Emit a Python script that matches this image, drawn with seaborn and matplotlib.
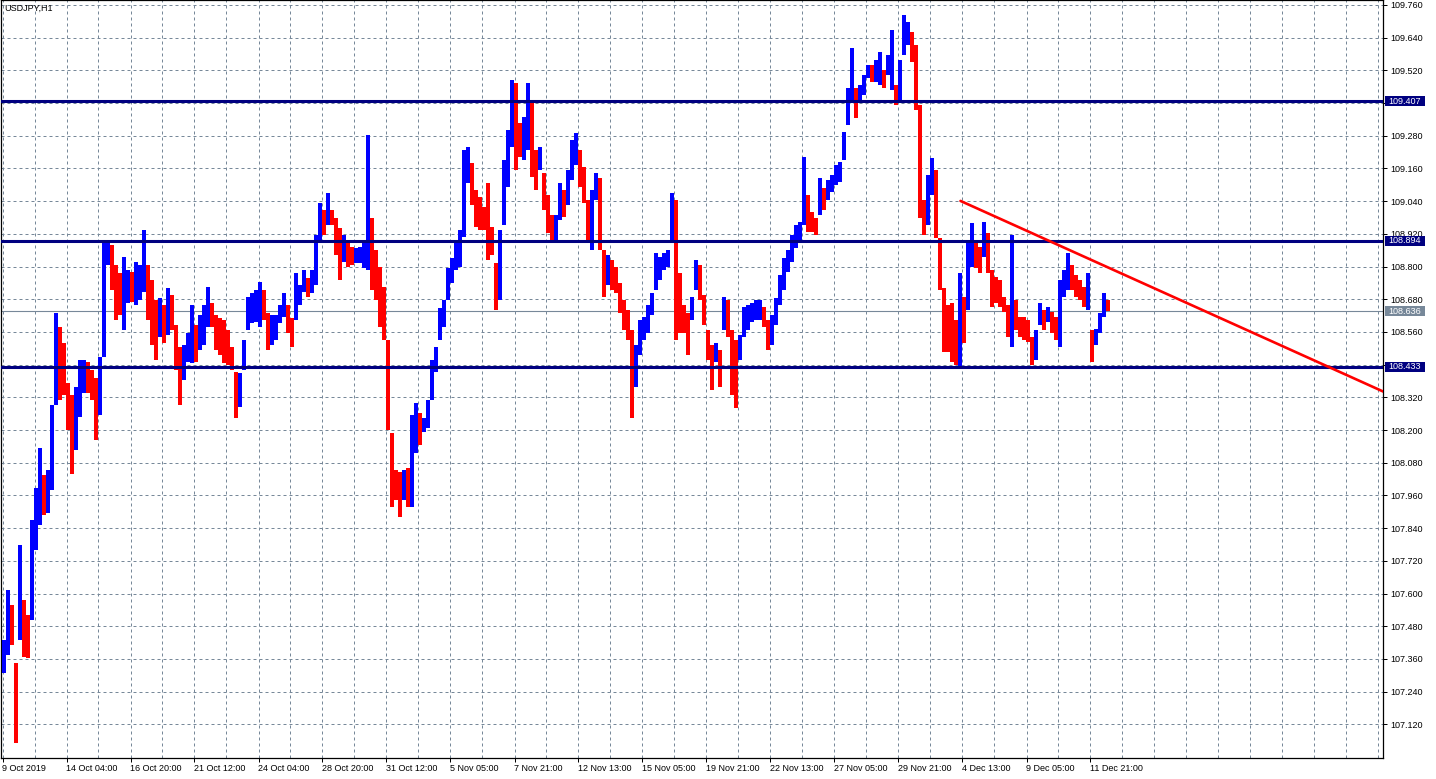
import matplotlib
matplotlib.use("Agg")
import matplotlib.pyplot as plt
import matplotlib.transforms as mtransforms
from matplotlib.patches import Rectangle
import numpy as np
import seaborn as sns

sns.set_theme(style="white")
plt.rcParams["font.family"] = ["Liberation Sans", "DejaVu Sans"]

# USDJPY H1, grouped into 4-hour blocks (high / low)
highs = [
    107.430, 107.613, 107.558, 107.345, 107.778, 107.577, 107.522, 107.870, 107.988, 108.134,
    108.035, 108.054, 108.292, 108.630, 108.578, 108.520, 108.373, 108.329, 108.358, 108.457,
    108.457, 108.450, 108.421, 108.391, 108.468, 108.887, 108.887, 108.879, 108.806, 108.777,
    108.835, 108.788, 108.780, 108.817, 108.806, 108.934, 108.806, 108.751, 108.677, 108.685,
    108.659, 108.721, 108.696, 108.586, 108.505, 108.512, 108.556, 108.659, 108.586, 108.622,
    108.659, 108.725, 108.666, 108.622, 108.611, 108.604, 108.567, 108.505, 108.413, 108.410,
    108.531, 108.688, 108.703, 108.714, 108.743, 108.714, 108.630, 108.622, 108.622, 108.659,
    108.703, 108.659, 108.611, 108.777, 108.732, 108.788, 108.758, 108.788, 108.916, 109.033,
    109.008, 109.070, 109.008, 108.978, 108.942, 108.916, 108.898, 108.872, 108.868, 108.872,
    108.898, 109.283, 108.978, 108.861, 108.799, 108.725, 108.531, 108.189, 108.054, 108.046,
    108.054, 108.061, 108.255, 108.299, 108.263, 108.244, 108.310, 108.457, 108.505, 108.648,
    108.677, 108.795, 108.832, 108.887, 108.934, 109.228, 109.239, 109.180, 109.081, 109.055,
    109.019, 109.107, 108.945, 108.813, 108.934, 109.191, 109.301, 109.485, 109.474, 109.327,
    109.349, 109.474, 109.411, 109.228, 109.239, 109.143, 109.063, 108.989, 108.989, 109.107,
    109.081, 109.154, 109.265, 109.290, 109.228, 109.166, 109.044, 109.081, 109.143, 109.125,
    108.861, 108.843, 108.824, 108.799, 108.740, 108.677, 108.641, 108.567, 108.512, 108.604,
    108.615, 108.659, 108.703, 108.850, 108.835, 108.850, 108.861, 109.070, 109.044, 108.777,
    108.659, 108.630, 108.688, 108.824, 108.806, 108.696, 108.567, 108.512, 108.520, 108.494,
    108.688, 108.677, 108.567, 108.531, 108.549, 108.652, 108.659, 108.666, 108.677, 108.677,
    108.652, 108.604, 108.622, 108.685, 108.769, 108.832, 108.861, 108.916, 108.953, 108.964,
    109.202, 109.063, 109.000, 108.978, 109.125, 109.088, 109.118, 109.136, 109.173, 109.184,
    109.294, 109.455, 109.602, 109.455, 109.466, 109.503, 109.540, 109.540, 109.558, 109.587,
    109.521, 109.577, 109.668, 109.466, 109.558, 109.723, 109.698, 109.661, 109.613, 109.393,
    109.044, 109.136, 109.199, 109.154, 108.905, 108.721, 108.659, 108.666, 108.604, 108.777,
    108.688, 108.898, 108.960, 108.898, 108.872, 108.964, 108.923, 108.788, 108.762, 108.751,
    108.688, 108.659, 108.916, 108.677, 108.615, 108.615, 108.604, 108.542, 108.567, 108.666,
    108.641, 108.652, 108.633, 108.615, 108.751, 108.788, 108.850, 108.806, 108.769, 108.751,
    108.725, 108.777, 108.567, 108.571, 108.630, 108.703, 108.677,
]
lows = [
    107.309, 107.375, 107.411, 107.052, 107.430, 107.367, 107.364, 107.503, 107.760, 107.852,
    107.888, 107.896, 107.980, 108.292, 108.310, 108.329, 108.200, 108.039, 108.127, 108.248,
    108.336, 108.336, 108.310, 108.164, 108.255, 108.468, 108.806, 108.714, 108.604, 108.622,
    108.567, 108.666, 108.670, 108.659, 108.677, 108.707, 108.604, 108.512, 108.457, 108.542,
    108.520, 108.549, 108.567, 108.421, 108.292, 108.384, 108.450, 108.446, 108.450, 108.494,
    108.512, 108.578, 108.578, 108.494, 108.476, 108.446, 108.439, 108.421, 108.244, 108.285,
    108.421, 108.567, 108.593, 108.597, 108.578, 108.604, 108.494, 108.512, 108.531, 108.593,
    108.615, 108.556, 108.505, 108.604, 108.659, 108.707, 108.688, 108.703, 108.732, 108.898,
    108.916, 108.953, 108.953, 108.843, 108.751, 108.817, 108.799, 108.806, 108.813, 108.813,
    108.795, 108.788, 108.714, 108.677, 108.578, 108.531, 108.200, 107.918, 107.943, 107.881,
    107.943, 107.918, 107.918, 108.116, 108.145, 108.193, 108.208, 108.310, 108.413, 108.531,
    108.578, 108.677, 108.740, 108.788, 108.799, 108.908, 109.107, 109.026, 108.945, 108.934,
    108.934, 108.824, 108.843, 108.641, 108.677, 108.953, 109.092, 109.239, 109.154, 109.202,
    109.191, 109.228, 109.129, 109.081, 109.154, 109.008, 108.923, 108.898, 108.898, 108.971,
    108.982, 109.026, 109.118, 109.173, 109.092, 109.033, 108.898, 108.861, 109.044, 108.861,
    108.688, 108.732, 108.714, 108.703, 108.630, 108.567, 108.531, 108.244, 108.358, 108.476,
    108.531, 108.556, 108.622, 108.714, 108.751, 108.788, 108.799, 108.898, 108.531, 108.556,
    108.556, 108.476, 108.604, 108.714, 108.677, 108.586, 108.457, 108.347, 108.450, 108.358,
    108.567, 108.542, 108.329, 108.281, 108.457, 108.542, 108.567, 108.597, 108.604, 108.604,
    108.578, 108.494, 108.512, 108.586, 108.659, 108.714, 108.780, 108.817, 108.868, 108.890,
    108.953, 108.927, 108.927, 108.916, 108.989, 109.008, 109.044, 109.074, 109.099, 109.110,
    109.191, 109.320, 109.411, 109.345, 109.404, 109.430, 109.492, 109.477, 109.477, 109.466,
    109.455, 109.503, 109.448, 109.393, 109.411, 109.577, 109.613, 109.551, 109.375, 108.978,
    108.916, 108.953, 109.063, 108.905, 108.714, 108.487, 108.487, 108.450, 108.439, 108.432,
    108.520, 108.641, 108.799, 108.795, 108.777, 108.835, 108.777, 108.652, 108.666, 108.652,
    108.633, 108.542, 108.505, 108.567, 108.542, 108.531, 108.523, 108.439, 108.457, 108.586,
    108.567, 108.597, 108.556, 108.531, 108.505, 108.688, 108.714, 108.714, 108.688, 108.677,
    108.652, 108.641, 108.450, 108.512, 108.556, 108.615, 108.636,
]
bars_per_block = 4

levels = [109.407, 108.894, 108.433]
last_price = 108.636
trend_bars = [958, 1381]
trend_prices = [109.041, 108.341]

# right scale labels (109.400 and 108.440 sit under the level boxes, not shown)
price_ticks = [
    109.760, 109.640, 109.520, 109.400, 109.280, 109.160, 109.040, 108.920,
    108.800, 108.680, 108.560, 108.440, 108.320, 108.200, 108.080, 107.960,
    107.840, 107.720, 107.600, 107.480, 107.360, 107.240, 107.120,
]
hidden_ticks = [109.400, 108.440]
date_labels = [
    "9 Oct 2019", "14 Oct 04:00", "16 Oct 20:00", "21 Oct 12:00",
    "24 Oct 04:00", "28 Oct 20:00", "31 Oct 12:00", "5 Nov 05:00",
    "7 Nov 21:00", "12 Nov 13:00", "15 Nov 05:00", "19 Nov 21:00",
    "22 Nov 13:00", "27 Nov 05:00", "29 Nov 21:00", "4 Dec 13:00",
    "9 Dec 05:00", "11 Dec 21:00",
]
label_every = 64   # bars between time labels
grid_every = 32    # bars between vertical grid lines

BLUE = "#0000ff"
RED = "#ff0000"
NAVY = "#000080"
GRID = "#778899"

W, H = 1436, 779
fig = plt.figure(figsize=(W / 100, H / 100), dpi=100)
fig.patch.set_facecolor("white")
ax = fig.add_axes([1 / W, (H - 758) / H, 1382 / W, 758 / H])
ax.set_facecolor("white")

highs = np.array(highs)
lows = np.array(lows)
mids = (highs + lows) / 2
up = np.r_[True, np.diff(mids) >= 0]
colors = np.where(up, BLUE, RED)
xpos = np.arange(len(highs)) * bars_per_block + (bars_per_block - 1) / 2
ax.bar(xpos, highs - lows, bottom=lows, width=bars_per_block - 0.5,
       color=colors, linewidth=0, zorder=3)

# support / resistance levels and last price
for lvl in levels:
    ax.axhline(lvl, color=NAVY, linewidth=2.2, zorder=4)
ax.axhline(last_price, color=GRID, linewidth=0.8, zorder=2)

# descending trend line
sns.lineplot(x=trend_bars, y=trend_prices, ax=ax, color=RED,
             linewidth=1.9, zorder=5)

ax.set_xlim(-1.5, 1380.5)
ax.set_ylim(106.9967, 109.7783)

# grid
ax.set_yticks(price_ticks)
ax.set_yticklabels(["" if p in hidden_ticks else f"{p:.3f}"
                    for p in price_ticks])
ax.yaxis.tick_right()
xticks = np.arange(len(date_labels)) * label_every
ax.set_xticks(xticks)
ax.set_xticklabels(date_labels, ha="left")
ax.set_xticks(np.arange(0, 1381, grid_every), minor=True)
ax.grid(True, axis="y", which="major", color=GRID, linestyle=(0, (3, 3)),
        linewidth=0.72)
ax.grid(True, axis="x", which="both", color=GRID, linestyle=(0, (3, 3)),
        linewidth=0.72)
ax.set_axisbelow(True)
ax.tick_params(axis="y", which="major", right=True, left=False, length=3,
               width=0.72, color="black", labelsize=6.5, pad=2,
               labelcolor="black")
ax.tick_params(axis="x", which="major", bottom=True, length=3, width=0.72,
               color="black", labelsize=6.5, pad=1, labelcolor="black")
ax.tick_params(axis="x", which="minor", length=0)
for sp in ax.spines.values():
    sp.set_color("black")
    sp.set_linewidth(0.9)

# price boxes on the right scale
trans = mtransforms.blended_transform_factory(ax.transAxes, ax.transData)
box_x0 = 1385 / 1382 - 1 / 1382
box_w = 40 / 1382
box_h = 10 / 272.5
for lvl, fc in [(levels[0], NAVY), (levels[1], NAVY), (levels[2], NAVY),
                (last_price, GRID)]:
    ax.add_patch(Rectangle((box_x0, lvl - box_h / 2), box_w, box_h,
                           transform=trans, facecolor=fc, edgecolor="none",
                           clip_on=False, zorder=6))
    ax.text(box_x0 + 3 / 1382, lvl, f"{lvl:.3f}", transform=trans,
            ha="left", va="center", color="white", fontsize=6.5,
            clip_on=False, zorder=7)

ax.text(3 / 1382, 1 - 8 / 758, "USDJPY,H1", transform=ax.transAxes,
        ha="left", va="center", fontsize=6.5, color="black", zorder=7)

fig.savefig("out.png", dpi=100)
